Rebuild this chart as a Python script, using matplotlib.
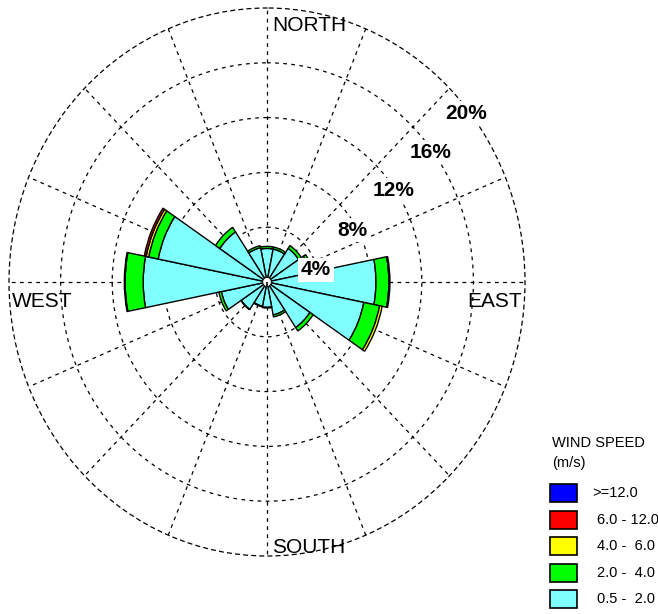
import numpy as np
import matplotlib
matplotlib.use("Agg")
import matplotlib.pyplot as plt
from matplotlib.patches import Rectangle

# ---- data -------------------------------------------------------------
directions = ["N", "NNE", "NE", "ENE", "E", "ESE", "SE", "SSE",
              "S", "SSW", "SW", "WSW", "W", "WNW", "NW", "NNW"]
# frequency (%) per speed class, stacked from the centre outwards
freq_0p5_2 = [2.45, 2.45, 2.95, 3.40, 8.45, 7.65, 4.00, 2.45,
              1.85, 1.80, 2.40, 3.60, 9.60, 8.60, 4.40, 2.55]
freq_2_4 = [0.15, 0.15, 0.25, 0.20, 1.00, 1.25, 0.30, 0.15,
            0.05, 0.05, 0.03, 0.20, 1.40, 0.75, 0.40, 0.15]
freq_4_6 = [0.00, 0.00, 0.00, 0.00, 0.08, 0.20, 0.00, 0.00,
            0.00, 0.00, 0.00, 0.00, 0.06, 0.20, 0.00, 0.00]
freq_6_12 = [0.00, 0.00, 0.00, 0.00, 0.00, 0.00, 0.00, 0.00,
             0.00, 0.00, 0.00, 0.00, 0.00, 0.15, 0.00, 0.00]
freq_ge12 = [0.0] * 16

speed_labels = ["0.5 -  2.0", "2.0 -  4.0", "4.0 -  6.0", "6.0 - 12.0", ">=12.0"]
speed_colors = ["#80FFFF", "#00FF00", "#FFFF00", "#FF0000", "#0000FF"]
ring_values = [4, 8, 12, 16, 20]
ring_labels = ["4%", "8%", "12%", "16%", "20%"]
ring_label_angles = [77.0, 60.3, 55.8, 53.3, 51.4]
ring_label_radii = [3.9, 7.63, 11.9, 15.86, 19.75]
compass = ["NORTH", "EAST", "SOUTH", "WEST"]

plt.rcParams["font.family"] = ["Liberation Sans", "DejaVu Sans"]

W, H = 658, 614
fig = plt.figure(figsize=(W / 100, H / 100), dpi=100)
fig.patch.set_facecolor("white")

# polar axes: box in pixels (left, top, right, bottom)
l, t, r, b = 9, 8, 525, 556
ax = fig.add_axes([l / W, 1 - b / H, (r - l) / W, (b - t) / H],
                  projection="polar")
ax.set_aspect("auto")
ax.set_theta_zero_location("N")
ax.set_theta_direction(-1)
ax.set_ylim(0, ring_values[-1])
ax.set_xticks(np.deg2rad(np.arange(0, 360, 22.5)))
ax.set_xticklabels([])
ax.set_yticks(ring_values[:-1])
ax.set_yticklabels([])
dash = (0, (3, 3.5))
ax.grid(True, color="black", linestyle=dash, linewidth=0.9)
ax.spines["polar"].set_linestyle(dash)
ax.spines["polar"].set_linewidth(0.9)
ax.set_axisbelow(True)
ax.tick_params(length=0)

theta = np.deg2rad(np.arange(16) * 22.5)
width = np.deg2rad(22.5)
bottom = np.zeros(16)
for vals, col in zip([freq_0p5_2, freq_2_4, freq_4_6, freq_6_12, freq_ge12],
                     speed_colors):
    vals = np.asarray(vals)
    mask = vals > 0
    ax.bar(theta[mask], vals[mask], width=width, bottom=bottom[mask],
           color=col, edgecolor="black", linewidth=1.0, zorder=3)
    bottom = bottom + vals

# calm circle in the middle
ax.bar(0, 0.33, width=2 * np.pi, bottom=0, color="white",
       edgecolor="black", linewidth=0.6, zorder=4)

# ring labels
for lab, ang, rad in zip(ring_labels, ring_label_angles, ring_label_radii):
    ax.text(np.deg2rad(ang), rad, lab, fontsize=15, fontweight="bold",
            ha="center", va="center", zorder=6,
            bbox=dict(boxstyle="square,pad=0.12", facecolor="white",
                      edgecolor="none"))

# compass labels
rmax = ring_values[-1]
ax.annotate(compass[0], (0, rmax), xytext=(5, -23), textcoords="offset pixels",
            ha="left", va="baseline", fontsize=15, annotation_clip=False)
ax.annotate(compass[1], (np.pi / 2, rmax), xytext=(-3, -25),
            textcoords="offset pixels", ha="right", va="baseline",
            fontsize=15, annotation_clip=False)
ax.annotate(compass[2], (np.pi, rmax), xytext=(5, 3),
            textcoords="offset pixels", ha="left", va="baseline",
            fontsize=15, annotation_clip=False)
ax.annotate(compass[3], (3 * np.pi / 2, rmax), xytext=(3, -25),
            textcoords="offset pixels", ha="left", va="baseline",
            fontsize=15, annotation_clip=False)

# legend drawn in a pixel-space overlay
lax = fig.add_axes([0, 0, 1, 1])
lax.set_xlim(0, W)
lax.set_ylim(H, 0)
lax.axis("off")
lax.patch.set_visible(False)

lax.text(552, 447, "WIND SPEED", fontsize=10.5, ha="left", va="baseline")
lax.text(552, 467, "(m/s)", fontsize=10.5, ha="left", va="baseline")
for i, (lab, col) in enumerate(zip(speed_labels[::-1], speed_colors[::-1])):
    y0 = 484 + i * 26.6
    lax.add_patch(Rectangle((550, y0), 27, 18, facecolor=col,
                            edgecolor="black", linewidth=1.2))
    x_txt = 592 if lab.startswith(">") else 597
    lax.text(x_txt, y0 + 9, lab, fontsize=10.5, ha="left", va="center")

fig.savefig("out.png", dpi=100)
